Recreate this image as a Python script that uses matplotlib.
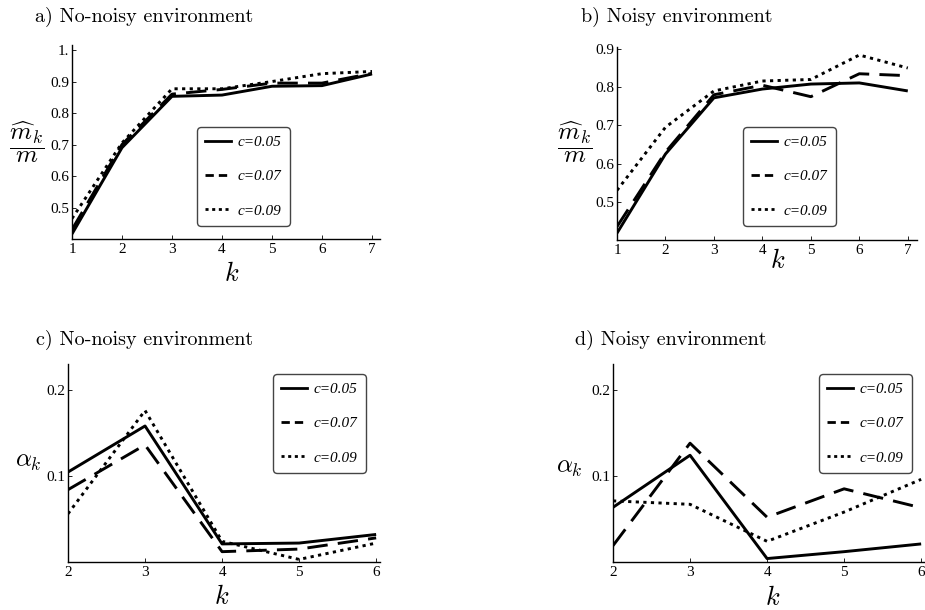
import matplotlib
matplotlib.use("Agg")
import matplotlib.pyplot as plt
from matplotlib.lines import Line2D

plt.rcParams['mathtext.fontset'] = 'cm'
plt.rcParams['font.family'] = ['Liberation Serif', 'DejaVu Serif']

W, H = 925, 610

# data
k_top = [1, 2, 3, 4, 5, 6, 7]
k_bottom = [2, 3, 4, 5, 6]
labels = ["c=0.05", "c=0.07", "c=0.09"]

# a) m_hat/m, no noise
a_c05 = [0.416, 0.690, 0.853, 0.857, 0.885, 0.887, 0.924]
a_c07 = [0.430, 0.700, 0.860, 0.875, 0.895, 0.895, 0.926]
a_c09 = [0.465, 0.705, 0.877, 0.877, 0.900, 0.925, 0.932]

# b) m_hat/m, noisy
b_c05 = [0.418, 0.625, 0.772, 0.795, 0.808, 0.811, 0.790]
b_c07 = [0.435, 0.630, 0.780, 0.805, 0.775, 0.835, 0.830]
b_c09 = [0.530, 0.695, 0.790, 0.816, 0.820, 0.884, 0.850]

# c) alpha_k, no noise
c_c05 = [0.1045, 0.158, 0.021, 0.022, 0.032]
c_c07 = [0.084, 0.136, 0.012, 0.015, 0.028]
c_c09 = [0.056, 0.176, 0.024, 0.003, 0.022]

# d) alpha_k, noisy
d_c05 = [0.0635, 0.124, 0.004, 0.012, 0.021]
d_c07 = [0.019, 0.138, 0.052, 0.085, 0.063]
d_c09 = [0.071, 0.067, 0.024, 0.058, 0.096]

fig = plt.figure(figsize=(W / 100, H / 100), dpi=100)


def px_rect(l, t, r, b):
    return [l / W, 1 - b / H, (r - l) / W, (b - t) / H]


def fx(x):
    return x / W


def fy(y):
    return 1 - y / H


styles = [dict(linestyle='-'),
          dict(linestyle=(0, (7, 3.5))),
          dict(linestyle=(0, (1.1, 1.5)))]
leg_styles = [dict(linestyle='-'),
              dict(linestyle=(0, (3, 1.8))),
              dict(linestyle=(0, (1.1, 1.3)))]


def panel(rect, x, series, xlim, ylim, yticks, yticklabels, title, title_xy,
          ylab, ylab_xy, klab_xy, leg_xy):
    ax = fig.add_axes(px_rect(*rect))
    for s, st in zip(series, styles):
        ax.plot(x, s, color='black', lw=2.1, solid_capstyle='butt',
                dash_capstyle='butt', **st)
    ax.set_xlim(*xlim)
    ax.set_ylim(*ylim)
    ax.set_xticks(x)
    ax.set_xticklabels([str(v) for v in x])
    ax.set_yticks(yticks)
    ax.set_yticklabels(yticklabels)
    for sp in ['top', 'right']:
        ax.spines[sp].set_visible(False)
    for sp in ['left', 'bottom']:
        ax.spines[sp].set_linewidth(1.0)
    ax.tick_params(direction='in', length=3, width=0.6, pad=3,
                   labelsize=11)
    ax.tick_params(axis='y', pad=2)

    fig.text(fx(title_xy[0]), fy(title_xy[1]), title, family='cmr10',
             fontsize=14.5, ha='left', va='center')
    fig.text(fx(ylab_xy[0]), fy(ylab_xy[1]), ylab, fontsize=18,
             ha='center', va='center')
    fig.text(fx(klab_xy[0]), fy(klab_xy[1]), r'$k$', fontsize=19,
             ha='center', va='center')

    handles = [Line2D([], [], color='black', lw=2.0, dash_capstyle='butt', **st)
               for st in leg_styles]
    leg = ax.legend(handles, labels, loc='upper left',
                    bbox_to_anchor=(fx(leg_xy[0]), fy(leg_xy[1])),
                    bbox_transform=fig.transFigure, borderaxespad=0,
                    prop=dict(family='Liberation Serif', style='italic', size=11),
                    labelspacing=1.35, handlelength=1.65, handletextpad=0.45,
                    borderpad=0.55, fancybox=True, framealpha=1)
    frame = leg.get_frame()
    frame.set_edgecolor('#444444')
    frame.set_linewidth(1.0)
    frame.set_boxstyle('round', pad=0, rounding_size=0.25)
    return ax


mk = r'$\dfrac{\widehat{m}_k}{m}$'
ak = r'$\alpha_k$'

panel((72, 45, 380, 239), k_top, [a_c05, a_c07, a_c09], (1, 7.16),
      (0.4, 1.016), [0.5, 0.6, 0.7, 0.8, 0.9, 1.0],
      ["0.5", "0.6", "0.7", "0.8", "0.9", "1."],
      "a) No-noisy environment", (35, 17), mk, (27, 142), (232, 274),
      (197, 127))

panel((617, 47, 917, 240), k_top, [b_c05, b_c07, b_c09], (1, 7.19),
      (0.4, 0.905), [0.5, 0.6, 0.7, 0.8, 0.9],
      ["0.5", "0.6", "0.7", "0.8", "0.9"],
      "b) Noisy environment", (581, 17), mk, (575, 142), (778, 261),
      (743, 127))

panel((68, 364, 380, 562), k_bottom, [c_c05, c_c07, c_c09], (2, 6.05),
      (0, 0.23), [0.1, 0.2], ["0.1", "0.2"],
      "c) No-noisy environment", (36, 340), ak, (28, 462), (222, 597),
      (273, 374))

panel((613, 364, 925, 562), k_bottom, [d_c05, d_c07, d_c09], (2, 6.05),
      (0, 0.23), [0.1, 0.2], ["0.1", "0.2"],
      "d) Noisy environment", (575, 340), ak, (569, 468), (773, 598),
      (819, 374))

fig.savefig("out.png", dpi=100)
